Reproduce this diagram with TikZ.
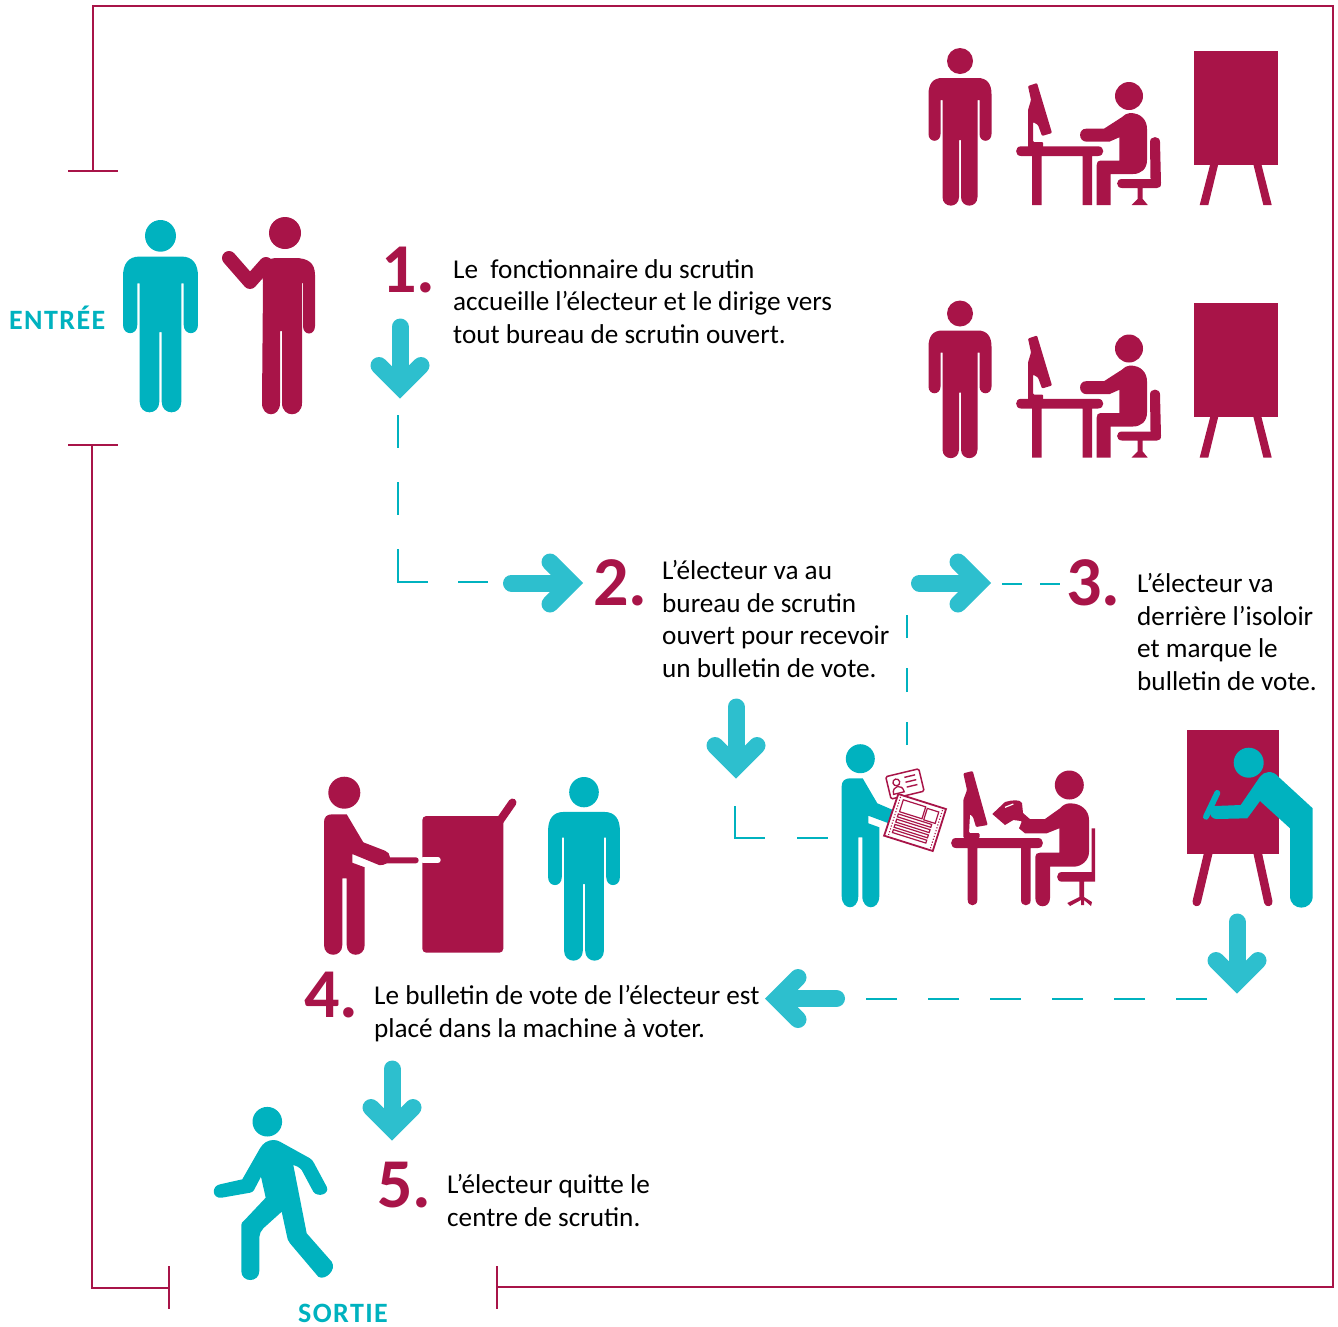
\documentclass[tikz,border=0pt]{standalone}
\usepackage{fontspec}
\setmainfont{Carlito}
\definecolor{crim}{HTML}{A81448}
\definecolor{teal1}{HTML}{00B2BF}
\definecolor{teal2}{HTML}{2DBFCE}
\newcommand\standfig[4]{% x, ytop, scale options, colour
 \begin{scope}[shift={(#1,#2)},#3]
 \fill[#4] (0,13) circle[radius=13];
 \fill[#4] (-18,30) -- (18,30) .. controls (27,30) and (31.5,36) .. (31.5,46) -- (31.5,86)
  .. controls (31.5,95) and (19.5,95) .. (19.5,86) -- (19.5,52) -- (17.5,52) -- (17.5,149)
  .. controls (17.5,160.5) and (1,160.5) .. (1,149) -- (1,92) -- (-1,92) -- (-1,149)
  .. controls (-1,160.5) and (-17.5,160.5) .. (-17.5,149) -- (-17.5,52) -- (-19.5,52) -- (-19.5,86)
  .. controls (-19.5,95) and (-31.5,95) .. (-31.5,86) -- (-31.5,46) .. controls (-31.5,36) and (-27,30) .. (-18,30) -- cycle;
 \end{scope}}
\newcommand\fatarrow[3]{%
 \begin{scope}[shift={(#1,#2)},rotate=#3]
 \draw[teal2,line width=17pt,line cap=round,line join=miter,miter limit=10] (-21,-33) -- (0,-12) -- (21,-33);
 \draw[teal2,line width=17pt,line cap=round] (0,-71.5) -- (0,-14);
 \end{scope}}
\newcommand\seatedrow[1]{% vertical shift
 \begin{scope}[shift={(0,#1)}]
 \standfig{960}{48}{scale=1}{crim}
 % monitor
 \fill[crim,rounded corners=1pt] (1028,86) -- (1037,83) -- (1052,133) -- (1042,136) -- (1038,125) -- (1033,122) -- (1033,142) -- (1043,142) -- (1043,149) -- (1028,149) -- (1028,110) -- (1031,100) -- cycle;
 % desk
 \fill[crim] (1021,146.3) -- (1098,146.3) .. controls (1105,146.3) and (1105,156) .. (1098,156) -- (1092,156) -- (1092,205) -- (1082.7,205) -- (1082.7,156) -- (1041.7,156) -- (1041.7,205) -- (1032,205) -- (1032,156) -- (1021,156) .. controls (1014.5,156) and (1014.5,146.3) .. (1021,146.3) -- cycle;
 % sitter
 \fill[crim] (1129,96) circle[radius=14];
 \fill[crim] (1130,113) .. controls (1141,113) and (1147,120) .. (1147,129) -- (1147,160) .. controls (1147,169) and (1141,174) .. (1133,174) -- (1110.7,174) -- (1110.7,205) -- (1096.7,205) -- (1096.7,165) .. controls (1096.7,162) and (1098,160.7) .. (1100,160.7) -- (1119.3,160.7) -- (1119.3,137.3) -- (1109.3,141.7) -- (1086.7,141.7) .. controls (1078,141.7) and (1078,128.7) .. (1086,128.7) -- (1104,128.7) -- (1121.7,117.3) .. controls (1124,115) and (1127,113) .. (1130,113) -- cycle;
 % chair
 \fill[crim] (1150,142) .. controls (1150,135.5) and (1160,135.5) .. (1160,142) -- (1161,183) .. controls (1161,186.5) and (1160,188) .. (1157,188) -- (1142.7,188) -- (1142.7,199) -- (1147.7,205) -- (1131.7,205) -- (1137.7,199) -- (1137.7,188) -- (1122,188) .. controls (1115.5,188) and (1115.5,179) .. (1122,179) -- (1150.5,179) -- cycle;
 % board
 \fill[crim] (1194,50.5) rectangle (1278,164.5);
 \fill[crim] (1210.3,164) -- (1218.3,164) -- (1208.3,205) -- (1199.7,205) -- cycle;
 \fill[crim] (1253.3,164) -- (1261.3,164) -- (1271.7,205) -- (1263.3,205) -- cycle;
 \end{scope}}
\tikzset{
 frameline/.style={crim,line width=2.6pt},
 dashline/.style={teal1,line width=2pt},
 bodytext/.style={anchor=north west,align=left,inner sep=0pt,font=\fontsize{27.2}{32.8}\selectfont,text=black},
 numlabel/.style={anchor=base west,inner sep=0pt,font=\fontsize{70}{70}\selectfont\bfseries,text=crim},
 zonelabel/.style={anchor=base west,inner sep=0pt,font=\fontsize{28}{28}\selectfont\bfseries\addfontfeatures{LetterSpace=5},text=teal1},
}
\begin{document}
\begin{tikzpicture}[x=1pt,y=-1pt]
\useasboundingbox (0,0) rectangle (1338,1326);
% frame
\coordinate (f1) at (93,171); \coordinate (f2) at (93,6); \coordinate (f3) at (1333,6); \coordinate (f4) at (1333,1287); \coordinate (f5) at (497,1287);
\draw[frameline,line join=miter] (f1) -- (f2) -- (f3) -- (f4) -- (f5);
\coordinate (f6) at (92,445); \coordinate (f7) at (92,1288); \coordinate (f8) at (169,1288);
\draw[frameline,line join=miter] (f6) -- (f7) -- (f8);
\coordinate (t1a) at (68,171); \coordinate (t1b) at (118,171); \draw[frameline] (t1a) -- (t1b);
\coordinate (t2a) at (68,445); \coordinate (t2b) at (118,445); \draw[frameline] (t2a) -- (t2b);
\coordinate (t3a) at (169,1266); \coordinate (t3b) at (169,1309); \draw[frameline] (t3a) -- (t3b);
\coordinate (t4a) at (497,1266); \coordinate (t4b) at (497,1309); \draw[frameline] (t4a) -- (t4b);
% labels
\node[zonelabel] (entree) at (9,329) {ENTRÉE};
\node[zonelabel] (sortie) at (298,1322) {SORTIE};
% entry people
\standfig{160.5}{220}{xscale=1.19,yscale=1.22}{teal1}
\draw[crim,line width=14pt,line cap=round,line join=round] (229,258) -- (250,282) -- (266,264);
\fill[crim] (285,233) circle[radius=16];
\fill[crim] (275,258) -- (295,258) .. controls (308,258) and (315,263) .. (315,275) -- (315,326) .. controls (315,336) and (303,336) .. (303,326) -- (303,283) -- (302,283) -- (302,403) .. controls (302,418) and (282,418) .. (282,403) -- (282,331) -- (280,331) -- (280,403) .. controls (280,418) and (262,418) .. (262,403) -- (263,283) -- (262,270) .. controls (266,262) and (270,258) .. (275,258) -- cycle;
% rows
\seatedrow{0}
\seatedrow{252.5}
% arrows
\fatarrow{400}{398.5}{0}
\fatarrow{583}{583}{90}
\fatarrow{991}{583}{90}
\fatarrow{736}{778.5}{0}
\fatarrow{1237}{993.5}{0}
\fatarrow{765}{998.5}{-90}
\fatarrow{392}{1140.5}{0}
% dashed connectors
\coordinate (d1a) at (398,415); \coordinate (d1b) at (398,582); \coordinate (d1c) at (488,582);
\draw[dashline,dash pattern=on 33pt off 34pt on 33pt off 34pt on 63pt off 30pt on 30pt] (d1a) -- (d1b) -- (d1c);
\coordinate (d2a) at (907,745); \coordinate (d2b) at (907,615);
\draw[dashline,dash pattern=on 23pt off 30pt on 24pt off 30pt on 23pt] (d2a) -- (d2b);
\coordinate (d3a) at (1002,584); \coordinate (d3b) at (1060,584);
\draw[dashline,dash pattern=on 20pt off 18pt on 20pt] (d3a) -- (d3b);
\coordinate (d4a) at (735,806); \coordinate (d4b) at (735,838); \coordinate (d4c) at (828,838);
\draw[dashline,dash pattern=on 62pt off 32pt on 31pt] (d4a) -- (d4b) -- (d4c);
\coordinate (d5a) at (1207,999); \coordinate (d5b) at (864,999);
\draw[dashline,dash pattern=on 31pt off 31pt] (d5a) -- (d5b);
% numbers
\node[numlabel] (n1) at (381,292) {1.};
\node[numlabel] (n2) at (593,605) {2.};
\node[numlabel] (n3) at (1066,605.5) {3.};
\node[numlabel] (n4) at (304,1017) {4.};
\node[numlabel] (n5) at (377,1207) {5.};
% texts
\node[bodytext] (x1) at (453,259) {Le\ \ fonctionnaire du scrutin\\accueille l’électeur et le dirige vers\\tout bureau de scrutin ouvert.};
\node[bodytext] (x2) at (662,560) {L’électeur va au\\bureau de scrutin\\ouvert pour recevoir\\un bulletin de vote.};
\node[bodytext] (x3) at (1137,573) {L’électeur va\\derrière l’isoloir\\et marque le\\bulletin de vote.};
\node[bodytext] (x4) at (374,985) {Le bulletin de vote de l’électeur est\\placé dans la machine à voter.};
\node[bodytext] (x5) at (447,1174) {L’électeur quitte le\\centre de scrutin.};
% step 2 voter
\fill[teal1] (860.3,758.7) circle[radius=14.5];
\fill[teal1] (850,778.3) -- (862.7,778.3) -- (877.3,803.3) -- (897,811.7) -- (893.3,825) -- (868.3,815.7) -- (868.3,823.3) -- (879.3,827.3) -- (879.3,896)  .. controls (879.3,911) and (862.3,911) .. (862.3,896) -- (862.3,837.3) -- (858.3,837.3) -- (858.3,896) .. controls (858.3,911) and (841.7,911) .. (841.7,896) -- (841.7,786) .. controls (841.7,781) and (845,778.3) .. (850,778.3) -- cycle;
% ID card
\begin{scope}[shift={(885.7,776.7)},rotate=13.5]
\draw[crim,fill=white,line width=1.5pt,rounded corners=1.5pt] (0,0) rectangle (34,23);
\draw[crim,line width=1.3pt] (9,8) circle[radius=3.4];
\draw[crim,line width=1.3pt] (3.5,19) .. controls (3.5,10) and (14.5,10) .. (14.5,19) -- cycle;
\draw[crim,line width=1.4pt] (18,5) -- (29,5) (18,10) -- (29,10) (18,15) -- (29,15);
\end{scope}
% ballot
\begin{scope}[shift={(898.3,794)},rotate=-17.5]
\draw[crim,fill=white,line width=1.8pt,line join=miter] (0,0) -- (50,0) -- (50,44) -- (-1,44) -- cycle;
\draw[crim,line width=1.1pt,dash pattern=on 1.2pt off 1.8pt] (3,2) -- (3,42) (47,2) -- (47,42);
\draw[crim,line width=1.2pt] (6.5,4) rectangle (30,16.5) (32,5) rectangle (44,17);
\foreach \yy in {19,24.5,30,35.5} {\draw[crim,line width=1.2pt] (6,\yy) rectangle (41,\yy+3);}
\end{scope}
% step 2 desk
\fill[crim,rounded corners=1pt] (963.3,773.3) -- (972.7,771) -- (987.7,825) -- (976,827) -- (973,817) -- (970,814) -- (969,833) -- (979.5,833) -- (979.5,838) -- (963.3,838) -- (963.3,800) -- (967,790) -- cycle;
\fill[crim] (956,838) -- (1038,838) .. controls (1044.5,838) and (1044.5,848) .. (1038,848) -- (1030.7,848) -- (1030.7,900) .. controls (1030.7,907) and (1021,907) .. (1021,900) -- (1021,848) -- (977.3,848) -- (977.3,900) .. controls (977.3,907) and (967.7,907) .. (967.7,900) -- (967.7,848) -- (956,848) .. controls (949.5,848) and (949.5,838) .. (956,838) -- cycle;
\fill[crim] (1069.3,785) circle[radius=14.5];
\fill[crim] (1070,803.3) .. controls (1081,803.3) and (1089,810) .. (1089,820) -- (1089,852) .. controls (1089,860) and (1082,866.7) .. (1073.3,866.7) -- (1050,866.7) -- (1050,898) .. controls (1050,909) and (1035.3,909) .. (1035.3,898) -- (1035.3,856.7) .. controls (1035.3,854) and (1037,852.7) .. (1040,852.7) -- (1059.3,852.7) -- (1059.3,828.3) -- (1046.7,833.3) -- (1025,833.3) -- (1019,828.3) -- (1021.7,821.7) -- (1030.7,819) -- (1045,819) -- (1060,808.3) .. controls (1063,805) and (1066,803.3) .. (1070,803.3) -- cycle;
% scanner
\fill[crim] (992.3,814) -- (1005,825) -- (1013.3,820) -- (1021,821) -- (1025,825) -- (1031,820) -- (1023,813) -- (1022,803) .. controls (1020,799) and (1012,800) .. (1005,802) -- cycle;
\draw[white,line width=1.2pt] (1005,807.3) -- (1013.3,804);
% chair
\fill[crim] (1091.7,828.3) -- (1095,828.3) -- (1095,881.7) -- (1084,881.7) -- (1084,897) -- (1092,902) -- (1091,906) -- (1084,900) -- (1084,905) -- (1081,905) -- (1081,900) -- (1070,906) -- (1067.3,903) -- (1079.3,897) -- (1079.3,881.7) -- (1062,881.7) .. controls (1055.5,881.7) and (1055.5,872) .. (1062,872) -- (1091.7,872) -- cycle;
% booth
\fill[crim] (1186.7,730) rectangle (1279,854);
\draw[crim,line width=8.5pt,line cap=round] (1209,850) -- (1196.7,902) (1257,850) -- (1268.3,902);
\draw[teal1,line width=6pt,line cap=round] (1217.3,793) -- (1206,816.7);
\fill[teal1] (1248.7,762.7) circle[radius=15];
\fill[teal1] (1260,776.7) .. controls (1264,771) and (1273,770) .. (1278.3,776.7) -- (1312.7,808.3) -- (1312.7,896) .. controls (1312.7,911.5) and (1290,911.5) .. (1290,896) -- (1290,828.3) -- (1260,801) -- (1247.3,818.3) -- (1216.7,819) .. controls (1208,819) and (1208,806) .. (1215,806) -- (1240.7,805) -- cycle;
% machine scene
\fill[crim] (344.3,792.7) circle[radius=16];
\fill[crim] (332,814.3) -- (346.7,814.3) -- (363.3,842.3) -- (385,850.7) .. controls (388,852) and (390,854) .. (390,857.3) -- (416,857.3) .. controls (419.5,857.3) and (419.5,863.3) .. (416,863.3) -- (387,863.3) .. controls (384,865) and (381,865.5) .. (379,865) -- (352.3,854) -- (352.3,862.7) -- (364.7,867.3) -- (364.7,945) .. controls (364.7,958) and (346.7,958) .. (346.7,945) -- (346.7,878.3) -- (342.3,878.3) -- (342.3,945) .. controls (342.3,958) and (324,958) .. (324,945) -- (324,822) .. controls (324,817) and (327,814.3) .. (332,814.3) -- cycle;
\draw[crim,line width=8pt,line cap=round] (499,822) -- (512.5,802.5);
\fill[crim,rounded corners=4pt] (422.3,816) rectangle (503.3,952.7);
\draw[white,line width=5.4pt,line cap=round] (423,860) -- (438,860);
\standfig{584}{777}{xscale=1.14,yscale=1.165}{teal1}
% walker
\fill[teal1] (267.3,1121.7) circle[radius=14.8];
\fill[teal1] (273.3,1140) .. controls (276,1140) and (278,1140.5) .. (280,1141.7) -- (310,1158.3) .. controls (312,1160) and (313,1161) .. (314,1163) -- (326.7,1186.7) .. controls (330,1194) and (318,1198) .. (313.3,1191.7) -- (301.7,1170) .. controls (299,1167) and (296,1165.5) .. (293.3,1165) -- (306.7,1233.3) -- (331.7,1261.7) .. controls (337,1270) and (325,1281) .. (318.3,1276.7) -- (290,1243.3) .. controls (288,1241) and (287,1238) .. (286.7,1235) -- (281.7,1211.7) -- (263.3,1228.3) .. controls (261,1231) and (259.3,1234) .. (259.3,1237) -- (259.3,1271) .. controls (259.3,1283) and (241.3,1283) .. (241.3,1271) -- (241.3,1225) .. controls (241.3,1223) and (242.5,1221.5) .. (244,1220.7) -- (265.7,1197.7) -- (261,1176.7) -- (254,1190) .. controls (253,1191.5) and (251.5,1192.5) .. (250,1192.7) -- (221.7,1197.7) .. controls (212,1199) and (211,1186) .. (220,1184.3) -- (242.3,1179.3) -- (260,1148.3) .. controls (263,1143) and (268,1140) .. (273.3,1140) -- cycle;
\end{tikzpicture}
\end{document}
